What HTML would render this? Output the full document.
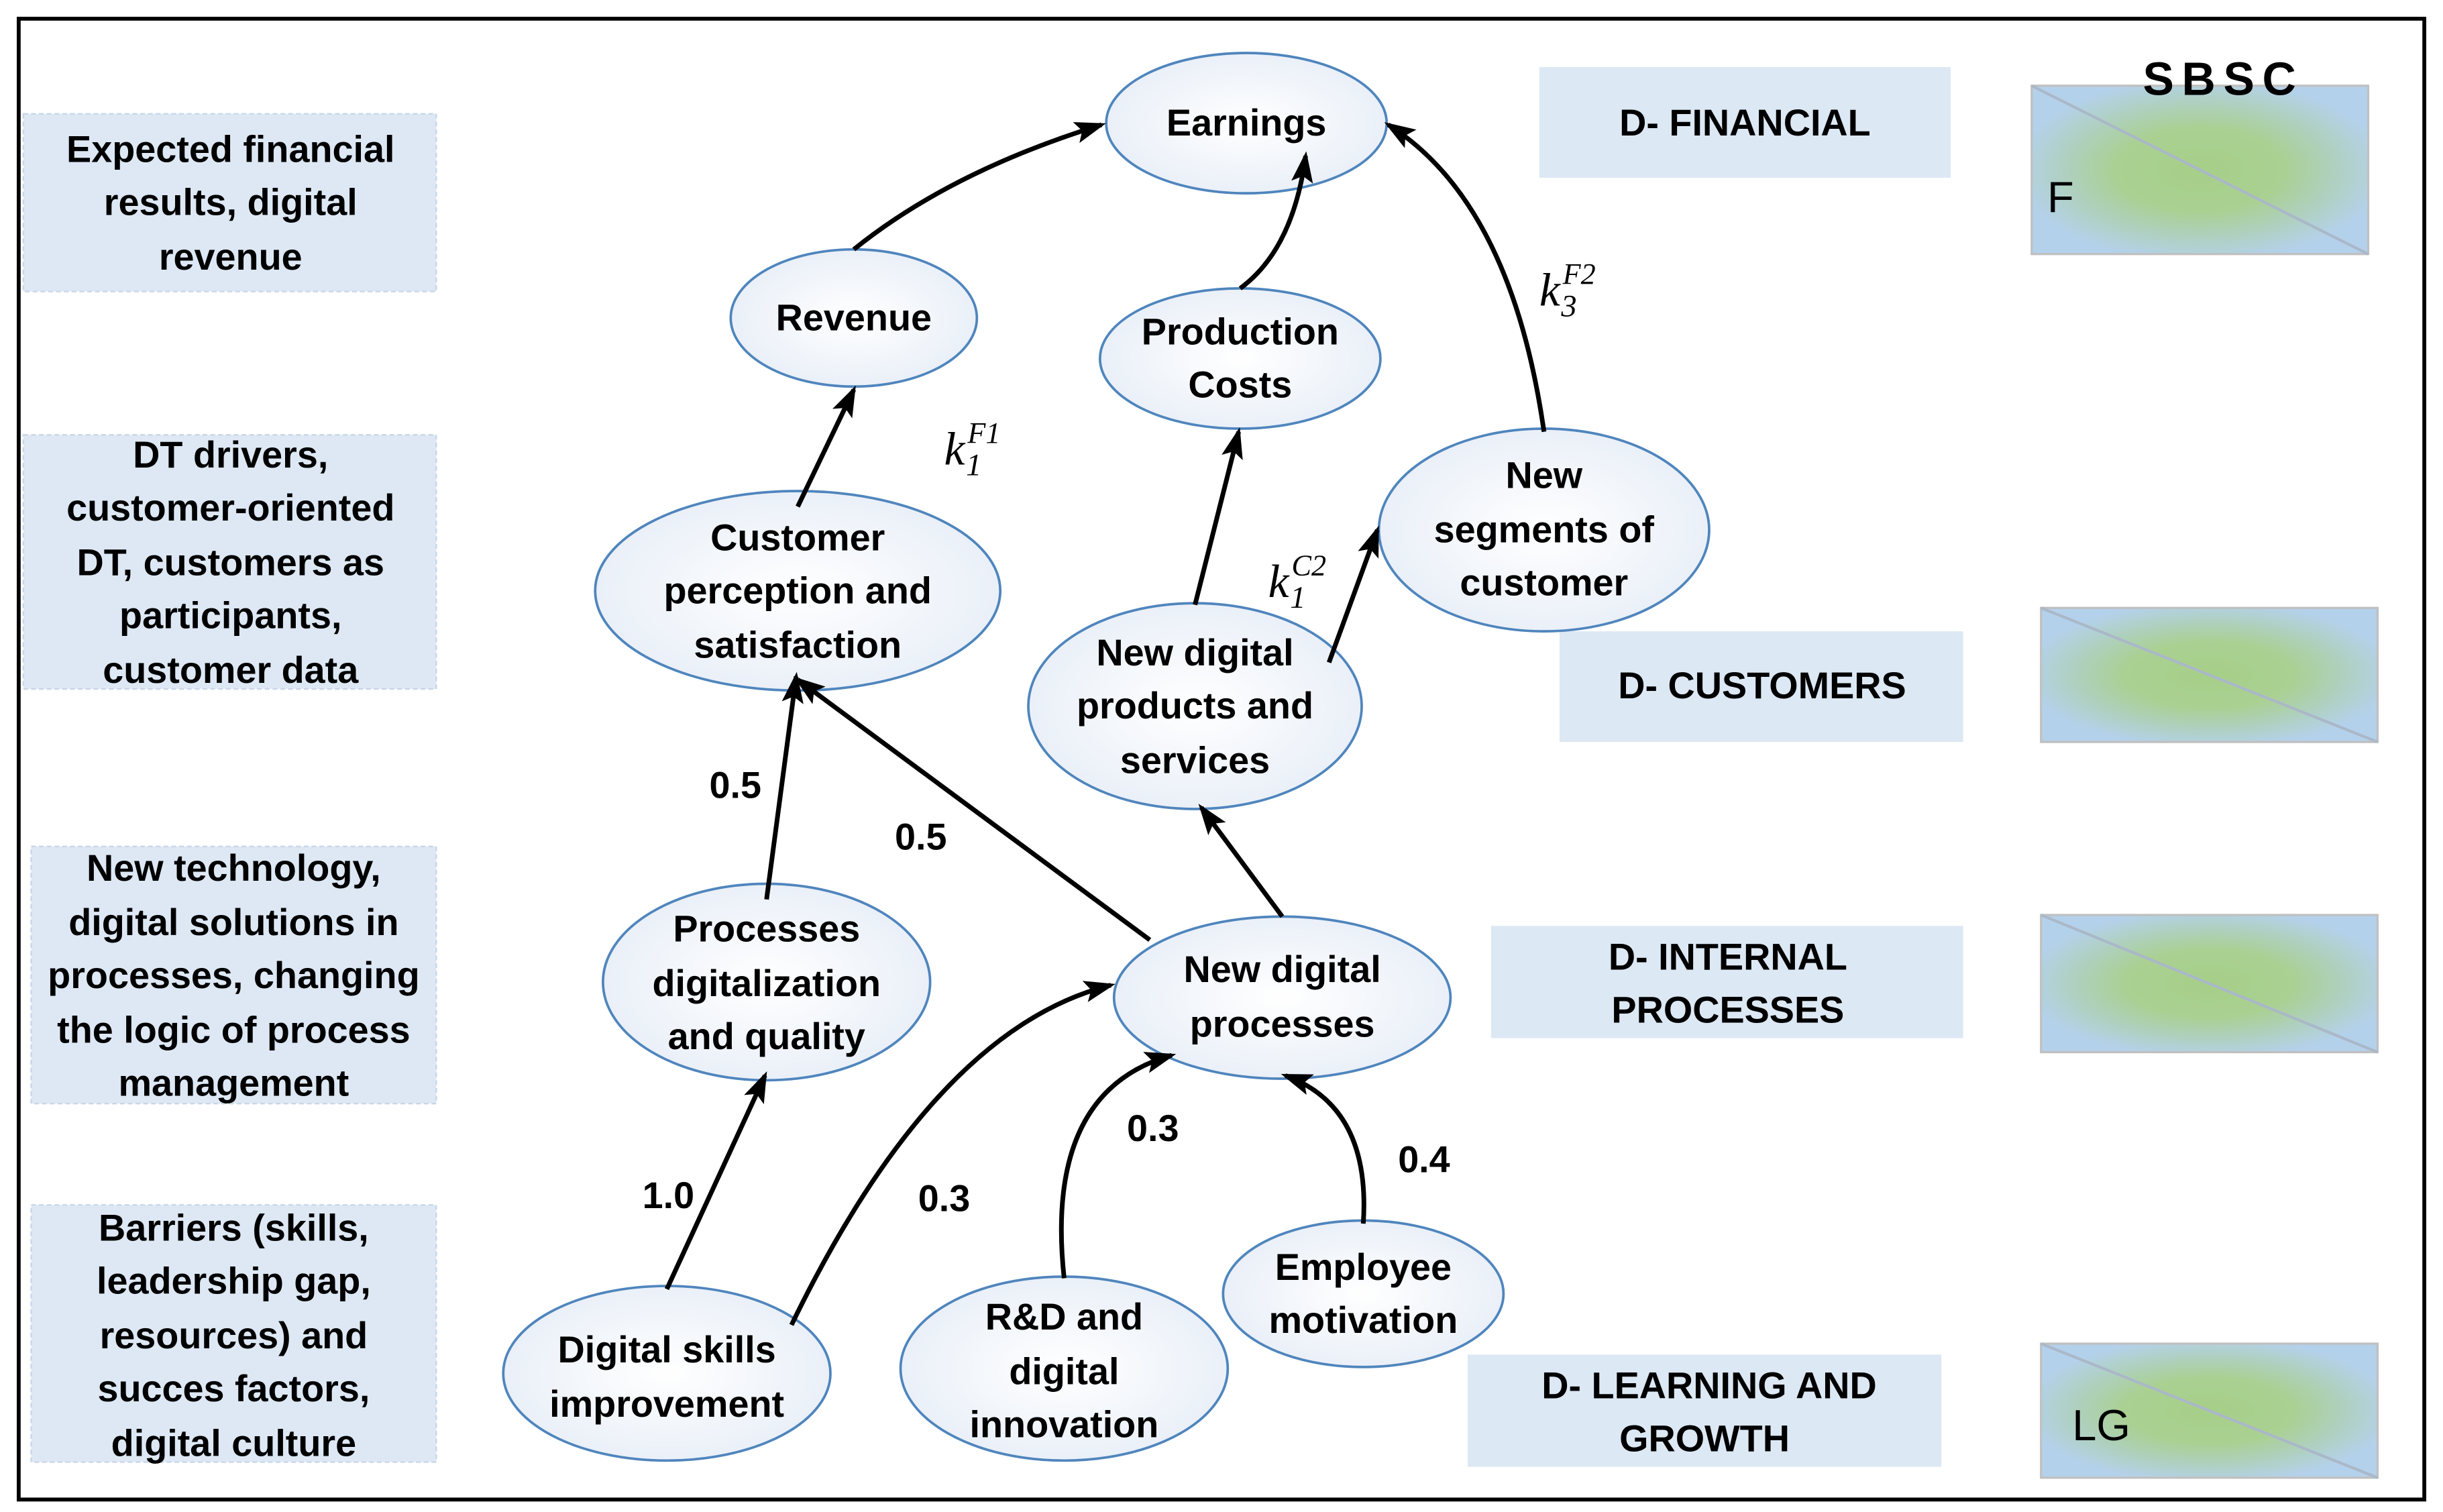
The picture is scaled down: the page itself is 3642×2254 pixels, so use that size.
<!DOCTYPE html>
<html><head><meta charset="utf-8"><style>html,body{margin:0;padding:0;background:#fff}svg{display:block}</style></head><body>
<svg width="3642" height="2254" viewBox="0 0 1568 970" preserveAspectRatio="none" xmlns="http://www.w3.org/2000/svg">
<defs>
<marker id="ah" viewBox="0 0 20 14" refX="17" refY="7" markerWidth="20" markerHeight="14" markerUnits="userSpaceOnUse" orient="auto">
<path d="M0,0 L20,7 L0,14 L4,7 z" fill="#000"/>
</marker>
<radialGradient id="eg" cx="0.5" cy="0.5" r="0.6"><stop offset="0" stop-color="#ffffff"/><stop offset="1" stop-color="#e6edf7"/></radialGradient>
<radialGradient id="sg" cx="0.5" cy="0.5" r="0.55"><stop offset="0" stop-color="#a6cf88"/><stop offset="0.45" stop-color="#aad092"/><stop offset="1" stop-color="#b4d1ec"/></radialGradient>
</defs>
<rect x="12" y="12" width="1544" height="950" fill="#fff" stroke="#000" stroke-width="2.5"/>
<g fill="#dde8f4" stroke="#c8d6e6" stroke-dasharray="3,2" stroke-width="1">
<rect x="15" y="73" width="265" height="114"/>
<rect x="15" y="279" width="265" height="163"/>
<rect x="20" y="543" width="260" height="165"/>
<rect x="20" y="773" width="260" height="165"/>
</g>
<g fill="#dce8f4">
<rect x="988" y="43" width="264" height="71"/>
<rect x="1001" y="405" width="259" height="71"/>
<rect x="957" y="594" width="303" height="72"/>
<rect x="942" y="869" width="304" height="72"/>
</g>
<g stroke="#c0c0c0" stroke-width="1.4" fill="url(#sg)">
<rect x="1304" y="55" width="216" height="108"/><line x1="1304" y1="55" x2="1520" y2="163" stroke="#aab8c8" stroke-width="1.8"/>
<rect x="1310" y="390" width="216" height="86"/><line x1="1310" y1="390" x2="1526" y2="476" stroke="#aab8c8" stroke-width="1.8"/>
<rect x="1310" y="587" width="216" height="88"/><line x1="1310" y1="587" x2="1526" y2="675" stroke="#aab8c8" stroke-width="1.8"/>
<rect x="1310" y="862" width="216" height="86"/><line x1="1310" y1="862" x2="1526" y2="948" stroke="#aab8c8" stroke-width="1.8"/>
</g>
<g fill="url(#eg)" stroke="#4f85bd" stroke-width="1.6">
<ellipse cx="800" cy="79" rx="90" ry="45"/>
<ellipse cx="548" cy="204" rx="79" ry="44"/>
<ellipse cx="796" cy="230" rx="90" ry="45"/>
<ellipse cx="991" cy="340" rx="106" ry="65"/>
<ellipse cx="512" cy="379" rx="130" ry="64"/>
<ellipse cx="767" cy="453" rx="107" ry="66"/>
<ellipse cx="492" cy="630" rx="105" ry="63"/>
<ellipse cx="823" cy="640" rx="108" ry="52"/>
<ellipse cx="428" cy="881" rx="105" ry="56"/>
<ellipse cx="683" cy="878" rx="105" ry="59"/>
<ellipse cx="875" cy="830" rx="90" ry="47"/>
</g>
<g stroke="#000" stroke-width="3" fill="none" marker-end="url(#ah)">
<path d="M548,160 Q610,110 707,80"/>
<path d="M796,185 Q830,160 838,100"/>
<path d="M991,277 Q970,130 891,80"/>
<path d="M512,325 L548,250"/>
<path d="M767,388 L795,277"/>
<path d="M853,425 L884,340"/>
<path d="M492,577 L511,434"/>
<path d="M823,588 L771,518"/>
<path d="M738,603 L512,436"/>
<path d="M428,827 L491,690"/>
<path d="M508,850 Q600,660 713,632"/>
<path d="M683,820 Q670,700 752,677"/>
<path d="M875,785 Q880,710 825,690"/>
</g>
<g font-family="Liberation Sans, sans-serif" font-weight="bold" font-size="24" fill="#000" text-anchor="middle">
<text x="148" y="104">Expected financial</text><text x="148" y="138">results, digital</text><text x="148" y="173">revenue</text>
<text x="148" y="300">DT drivers,</text><text x="148" y="334">customer-oriented</text><text x="148" y="369">DT, customers as</text><text x="148" y="403">participants,</text><text x="148" y="438">customer data</text>
<text x="150" y="565">New technology,</text><text x="150" y="600">digital solutions in</text><text x="150" y="634">processes, changing</text><text x="150" y="669">the logic of process</text><text x="150" y="703">management</text>
<text x="150" y="796">Barriers (skills,</text><text x="150" y="830">leadership gap,</text><text x="150" y="865">resources) and</text><text x="150" y="899">succes factors,</text><text x="150" y="934">digital culture</text>
<text x="1120" y="87">D- FINANCIAL</text>
<text x="1131" y="448">D- CUSTOMERS</text>
<text x="1109" y="622">D- INTERNAL</text><text x="1109" y="656">PROCESSES</text>
<text x="1097" y="897">D- LEARNING AND</text><text x="1094" y="931">GROWTH</text>
<text x="800" y="87">Earnings</text>
<text x="548" y="212">Revenue</text>
<text x="796" y="221">Production</text><text x="796" y="255">Costs</text>
<text x="991" y="313">New</text><text x="991" y="348">segments of</text><text x="991" y="382">customer</text>
<text x="512" y="353">Customer</text><text x="512" y="387">perception and</text><text x="512" y="422">satisfaction</text>
<text x="767" y="427">New digital</text><text x="767" y="461">products and</text><text x="767" y="496">services</text>
<text x="492" y="604">Processes</text><text x="492" y="639">digitalization</text><text x="492" y="673">and quality</text>
<text x="823" y="630">New digital</text><text x="823" y="665">processes</text>
<text x="428" y="874">Digital skills</text><text x="428" y="909">improvement</text>
<text x="683" y="853">R&amp;D and</text><text x="683" y="888">digital</text><text x="683" y="922">innovation</text>
<text x="875" y="821">Employee</text><text x="875" y="855">motivation</text>
<text x="472" y="512">0.5</text><text x="591" y="545">0.5</text><text x="429" y="775">1.0</text>
<text x="606" y="777">0.3</text><text x="740" y="732">0.3</text><text x="914" y="752">0.4</text>
<text x="1427" y="61" font-size="30" letter-spacing="5">SBSC</text>
</g>
<g font-family="Liberation Sans, sans-serif" font-size="28" fill="#000">
<text x="1314" y="136">F</text><text x="1330" y="924">LG</text>
</g>
<g font-family="Liberation Serif, serif" font-style="italic" fill="#000">
<text x="606" y="298" font-size="30">k</text><text x="620" y="305" font-size="20">1</text><text x="621" y="284" font-size="19">F1</text>
<text x="814" y="383" font-size="30">k</text><text x="828" y="390" font-size="20">1</text><text x="829" y="369" font-size="19">C2</text>
<text x="988" y="196" font-size="30">k</text><text x="1002" y="203" font-size="20">3</text><text x="1003" y="182" font-size="19">F2</text>
</g>
</svg>
</body></html>
